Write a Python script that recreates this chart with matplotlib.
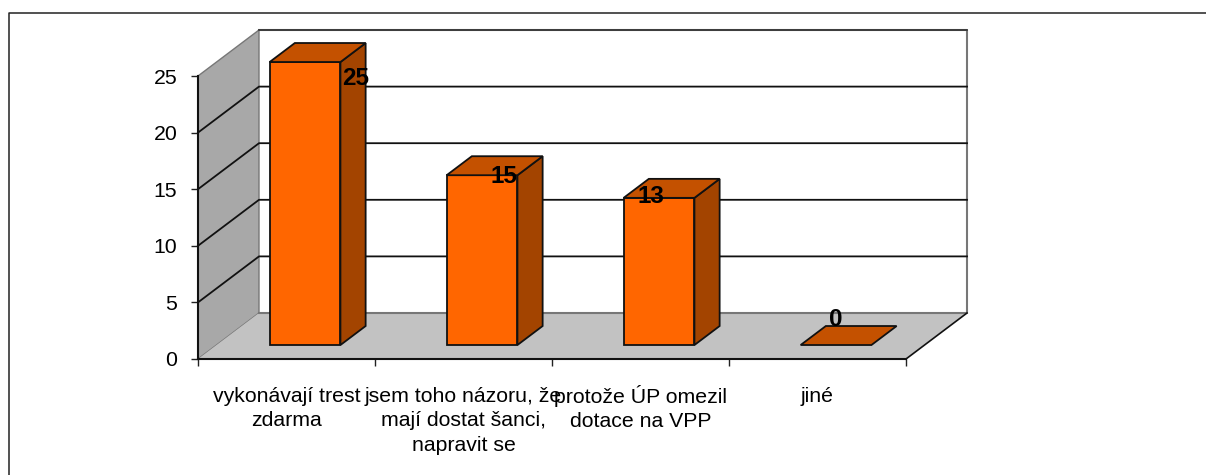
import matplotlib
matplotlib.use('Agg')
import matplotlib.pyplot as plt
from matplotlib.lines import Line2D
from matplotlib.transforms import ScaledTranslation

categories = ['vykonávají trest\nzdarma',
              'jsem toho názoru, že\nmají dostat šanci,\nnapravit se',
              'protože ÚP omezil\ndotace na VPP',
              'jiné']
values = [25, 15, 13, 0]
y_ticks = [0, 5, 10, 15, 20, 25]

# pixel offsets of the value labels from the bar's front top centre
label_offsets = [(51, -16), (22, -1), (-8, 1), (0, 26)]

W, H = 1206, 475
plt.rcParams['font.family'] = ['Liberation Sans', 'DejaVu Sans']

fig = plt.figure(figsize=(W / 100, H / 100), dpi=100)
ax = fig.add_axes([198 / W, (H - 359) / H, 708 / W, 283 / H])
ax.set_xlim(0, 4)
ax.set_ylim(0, 25)
ax.patch.set_visible(False)

# oblique depth of the fake 3d box, in data units
depth_x = 61 / 177
depth_y = 46 / 283 * 25
n = len(categories)


def at_depth(x, y, d):
    return x + d * depth_x, y + d * depth_y


def face(points, color, z):
    ax.fill(*zip(*points), facecolor=color, edgecolor='#111111', lw=1.3,
            zorder=z, clip_on=False, joinstyle='miter')


# walls and floor
wall = [(0, 0), at_depth(0, 0, 1), at_depth(0, 25, 1), (0, 25)]
ax.fill(*zip(*wall), facecolor='#A8A8A8', edgecolor='#777777', lw=1.0, zorder=1, clip_on=False)
floor = [(0, 0), (n, 0), at_depth(n, 0, 1), at_depth(0, 0, 1)]
ax.fill(*zip(*floor), facecolor='#C2C2C2', edgecolor='none', zorder=1, clip_on=False)

# back wall outline
bx, by = zip(at_depth(0, 0, 1), at_depth(n, 0, 1), at_depth(n, 25, 1), at_depth(0, 25, 1))
ax.plot(bx, by, color='#777777', lw=1.5, zorder=2, clip_on=False)
ax.plot(*zip(at_depth(0, 25, 1), at_depth(n, 25, 1)), color='#333333', lw=1.2, zorder=2, clip_on=False)
ax.plot(*zip((n, 0), at_depth(n, 0, 1)), color='#111111', lw=1.2, zorder=2, clip_on=False)

# gridlines run along the side wall and then the back wall
for v in y_ticks[1:-1]:
    gx, gy = zip((0, v), at_depth(0, v, 1), at_depth(n, v, 1))
    ax.plot(gx, gy, color='#111111', lw=1.3, zorder=2, clip_on=False)

# bars
gap = 0.3
bar_w = 0.4
d0 = 0.304
d1 = 0.717
for i, v in enumerate(values):
    x0 = i + gap
    x1 = x0 + bar_w
    front = [at_depth(x0, 0, d0), at_depth(x1, 0, d0), at_depth(x1, v, d0), at_depth(x0, v, d0)]
    side = [at_depth(x1, 0, d0), at_depth(x1, 0, d1), at_depth(x1, v, d1), at_depth(x1, v, d0)]
    top = [at_depth(x0, v, d0), at_depth(x1, v, d0), at_depth(x1, v, d1), at_depth(x0, v, d1)]
    if v > 0:
        face(side, '#A34400', 3)
        face(front, '#FF6600', 3)
    face(top, '#C45100', 3)

    px, py = at_depth((x0 + x1) / 2, v, d0)
    off = label_offsets[i]
    ax.annotate(str(v), (px, py), xytext=(off[0] * 0.72, off[1] * 0.72),
                textcoords='offset points', ha='center', va='center',
                fontsize=17.5, fontweight='bold', color='black', zorder=5,
                annotation_clip=False)

# axes
for s in ['top', 'right']:
    ax.spines[s].set_visible(False)
for s in ['left', 'bottom']:
    ax.spines[s].set_linewidth(1.5)
    ax.spines[s].set_color('#111111')
    ax.spines[s].set_zorder(4)

ax.set_yticks(y_ticks)
ax.tick_params(axis='y', length=5, width=1.0, pad=10, labelsize=15.3, color='#222222')
ax.set_xticks(range(n + 1))
ax.set_xticklabels([])
ax.tick_params(axis='x', which='major', length=5, width=1.0, color='#222222')
ax.set_xticks([i + 0.5 for i in range(n)], minor=True)
ax.set_xticklabels(categories, minor=True, fontsize=15.3, linespacing=1.38)
ax.tick_params(axis='x', which='minor', length=0, pad=20)

# the capital with the accent makes matplotlib push this label down, pull it back
lab = ax.get_xticklabels(minor=True)[2]
lab.set_transform(lab.get_transform() + ScaledTranslation(0, 2 / 100, fig.dpi_scale_trans))

# chart frame, runs off the right and bottom of the picture
fig.add_artist(Line2D([8.5 / W, 8.5 / W, 1], [0, (H - 12.5) / H, (H - 12.5) / H],
                      color='#222222', lw=1.1, transform=fig.transFigure))

fig.savefig('out.png', dpi=100)
